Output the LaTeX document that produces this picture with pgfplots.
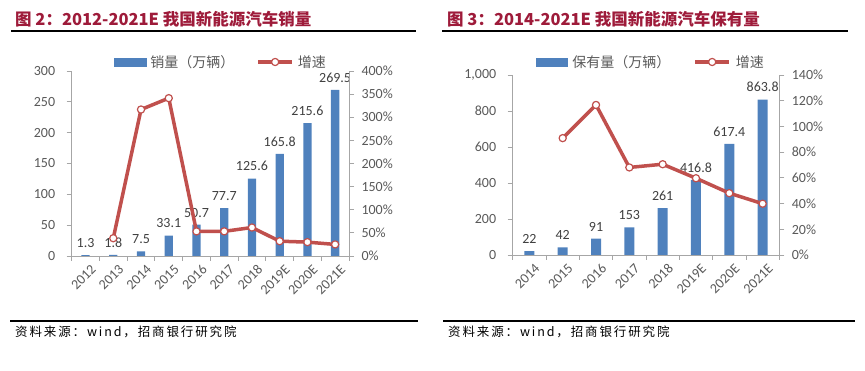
\documentclass[border=0pt]{standalone}
\usepackage{pgfplots}
\pgfplotsset{compat=1.18}
\usepackage{fontspec}
\setmainfont{Carlito}
\newfontfamily\cjk{Noto Sans CJK SC}
\newfontfamily\cjksrc{Noto Sans CJK SC}[LetterSpace=15]
\definecolor{barblue}{HTML}{4F81BD}
\definecolor{linered}{HTML}{C0504D}
\definecolor{titlered}{HTML}{9E1B3A}
\definecolor{ticktext}{HTML}{595959}
\definecolor{axisgray}{HTML}{A6A6A6}
\definecolor{labeltext}{HTML}{404040}
\pgfplotsset{
  common/.style={
    scale only axis,
    axis line style={axisgray, line width=0.8bp},
    tick style={axisgray, line width=0.8bp},
    tick align=outside,
    major tick length=5bp,
    minor tick length=5bp,
    ticklabel style={font=\fontsize{14bp}{16bp}\selectfont, text=ticktext},
    /pgf/number format/assume math mode=true,
  },
  barstyle/.style={
    axis x line*=bottom, axis y line*=left,
    major x tick style={draw=none},
    xticklabel style={rotate=45, anchor=north east, inner sep=0pt, yshift=-5bp, xshift=1.5bp},
    yticklabel style={xshift=-8bp},
    ybar, bar shift=0pt,
    nodes near coords,
    every node near coord/.append style={font=\fontsize{14bp}{16bp}\selectfont, text=labeltext, yshift=4bp},
  },
  linestyle/.style={
    axis x line=none, axis y line*=right,
    yticklabel={\pgfmathprintnumber{\tick}\%},
    yticklabel style={xshift=4bp},
    legend columns=-1,
  },
  redline/.style={linered, line width=3.5bp, line join=round, mark=*, mark size=3.6bp,
    mark options={fill=white, draw=linered, line width=1.2bp},
    legend image code/.code={\draw[##1, mark repeat=2, mark phase=2] plot coordinates {(0bp,0bp) (17bp,0bp) (34bp,0bp)};}},
}
\begin{document}
\begin{tikzpicture}
\path[use as bounding box] (0,0) rectangle (865bp,371bp);
% ---------------- left chart ----------------
\node[anchor=west, inner sep=0pt, text=titlered, font=\cjk\bfseries\fontsize{16.5bp}{20bp}\selectfont] at (15bp,351.5bp) {图 2：2012-2021E 我国新能源汽车销量};
\draw[line width=2.2bp] (11bp,340bp) -- (416bp,340bp);
\draw[line width=2.2bp] (10bp,50bp) -- (418bp,50bp);
\node[anchor=west, inner sep=0pt, font=\cjksrc\fontsize{12.5bp}{14bp}\selectfont] at (15bp,39bp) {资料来源：wind，招商银行研究院};

\begin{axis}[common, barstyle,
  at={(71.7bp,115bp)}, anchor=south west,
  width=277.3bp, height=185bp,
  xmin=-0.5, xmax=9.5, ymin=0, ymax=300,
  xtick={0,...,9},
  xticklabels={2012,2013,2014,2015,2016,2017,2018,2019E,2020E,2021E},
  minor xtick={-0.5,0.5,...,9.5},
  ytick={0,50,...,300},
  bar width=8.3bp,
]
\addplot[fill=barblue, draw=none] coordinates {(0,1.3) (1,1.8) (2,7.5) (3,33.1) (4,50.7) (5,77.7) (6,125.6) (7,165.8) (8,215.6) (9,269.5)};
\end{axis}
\begin{axis}[common, linestyle,
  at={(71.7bp,115bp)}, anchor=south west,
  width=277.3bp, height=185bp,
  xmin=-0.5, xmax=9.5, ymin=0, ymax=400,
  ytick={0,50,...,400},
  legend style={at={(0.1525,1)}, anchor=west, yshift=9bp, draw=none, fill=none,
    inner sep=0pt, outer sep=0pt, nodes={inner sep=0pt},
    font=\cjk\fontsize{14bp}{16bp}\selectfont, text=ticktext,
    /tikz/every odd column/.append style={column sep=4bp},
    /tikz/every even column/.append style={column sep=22bp}},
]
\addlegendimage{legend image code/.code={\fill[barblue] (0bp,-4bp) rectangle (32bp,4bp);}}
\addlegendentry{销量（万辆）}
\addplot[redline] coordinates {(1,38.5) (2,316.7) (3,341.3) (4,53.2) (5,53.3) (6,61.6) (7,32.0) (8,30.0) (9,25.0)};
\addlegendentry{增速}
\end{axis}

% ---------------- right chart ----------------
\node[anchor=west, inner sep=0pt, text=titlered, font=\cjk\bfseries\fontsize{16.5bp}{20bp}\selectfont] at (447bp,351.5bp) {图 3：2014-2021E 我国新能源汽车保有量};
\draw[line width=2.2bp] (442bp,340bp) -- (848bp,340bp);
\draw[line width=2.2bp] (443bp,50bp) -- (855bp,50bp);
\node[anchor=west, inner sep=0pt, font=\cjksrc\fontsize{12.5bp}{14bp}\selectfont] at (448bp,39bp) {资料来源：wind，招商银行研究院};

\begin{axis}[common, barstyle,
  at={(512.7bp,116bp)}, anchor=south west,
  width=266.6bp, height=180bp,
  xmin=-0.5, xmax=7.5, ymin=0, ymax=1000,
  xtick={0,...,7},
  xticklabels={2014,2015,2016,2017,2018,2019E,2020E,2021E},
  minor xtick={-0.5,0.5,...,7.5},
  ytick={0,200,...,1000},
  /pgf/number format/1000 sep={,},
  bar width=10bp,
]
\addplot[fill=barblue, draw=none] coordinates {(0,22) (1,42) (2,91) (3,153) (4,261) (5,416.8) (6,617.4) (7,863.8)};
\end{axis}
\begin{axis}[common, linestyle,
  at={(512.7bp,116bp)}, anchor=south west,
  width=266.6bp, height=180bp,
  xmin=-0.5, xmax=7.5, ymin=0, ymax=140,
  ytick={0,20,...,140},
  legend style={at={(0.0874,1)}, anchor=west, yshift=13bp, draw=none, fill=none,
    inner sep=0pt, outer sep=0pt, nodes={inner sep=0pt},
    font=\cjk\fontsize{14bp}{16bp}\selectfont, text=ticktext,
    /tikz/every odd column/.append style={column sep=5bp},
    /tikz/every even column/.append style={column sep=23bp}},
]
\addlegendimage{legend image code/.code={\fill[barblue] (0bp,-4bp) rectangle (31bp,4bp);}}
\addlegendentry{保有量（万辆）}
\addplot[redline] coordinates {(1,90.9) (2,116.7) (3,68.1) (4,70.6) (5,59.7) (6,48.1) (7,39.9)};
\addlegendentry{增速}
\end{axis}
\end{tikzpicture}
\end{document}
